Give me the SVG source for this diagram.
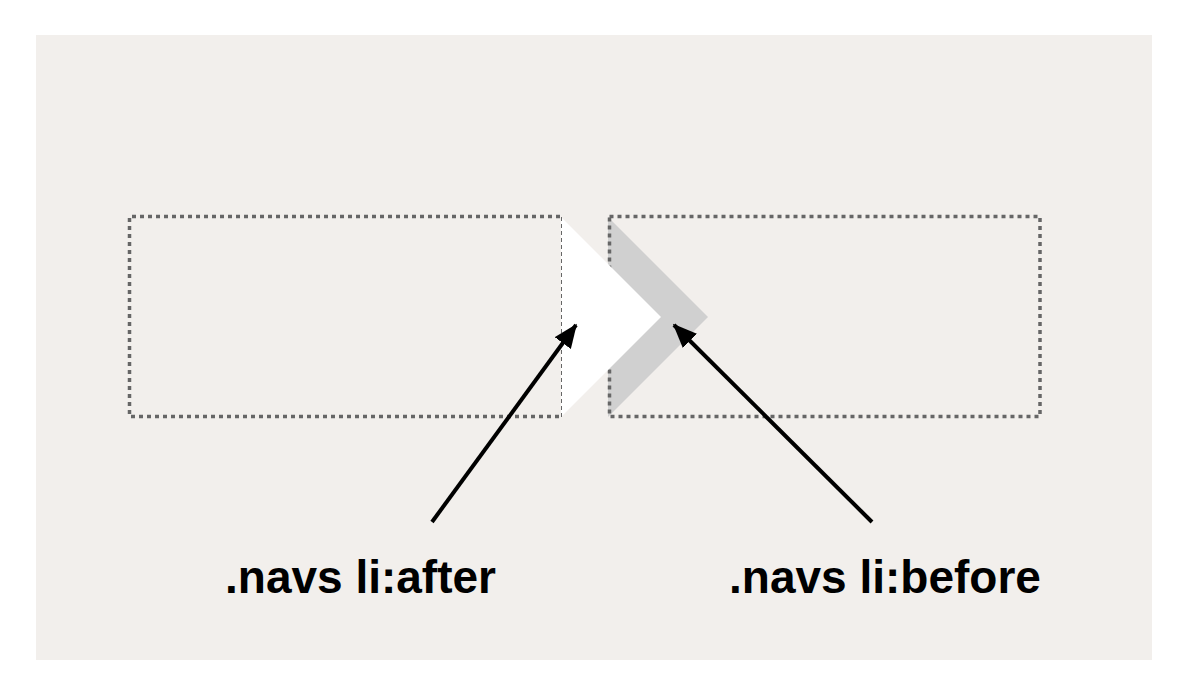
<svg xmlns="http://www.w3.org/2000/svg" width="1192" height="696" viewBox="0 0 1192 696">
<style>
.dot{fill:none;stroke:#666;stroke-width:3.5;stroke-dasharray:4 4}
.thin{fill:none;stroke:#666;stroke-width:1;stroke-dasharray:4 3}
.arrow{stroke:#000;stroke-width:4;fill:none;marker-end:url(#ah)}
.lbl{font-family:"Liberation Sans",Arial,sans-serif;font-weight:bold;font-size:46px;fill:#000;text-anchor:middle}
</style>
<defs>
<marker id="ah" markerWidth="6" markerHeight="5" refX="5.6" refY="2.5" orient="auto" markerUnits="strokeWidth">
<path d="M0,0 L6,2.5 L0,5 Z" fill="#000"/>
</marker>
</defs>
<rect x="0" y="0" width="1192" height="696" fill="#fff"/>
<rect x="36" y="35" width="1116" height="625" fill="#f2efec"/>
<g id="before-shape">
<polygon points="608,217 708,317 608,417" fill="#d0d0d0"/>
</g>
<g id="box-right">
<rect class="dot" x="609.5" y="216.5" width="430.5" height="200"/>
</g>
<g id="box-left">
<path class="dot" d="M560,216.5 H129.5 V416.5 H560"/>
</g>
<g id="after-shape">
<polygon points="561,217 661,317 561,417" fill="#fff"/>
<line class="thin" x1="561.5" y1="217" x2="561.5" y2="417"/>
</g>
<g id="connectors">
<line class="arrow" x1="432" y1="522" x2="576" y2="325"/>
<line class="arrow" x1="872" y1="522" x2="674" y2="325"/>
</g>
<g id="label-after">
<text class="lbl" x="360.5" y="593">.navs li:after</text>
</g>
<g id="label-before">
<text class="lbl" x="885" y="593">.navs li:before</text>
</g>
</svg>
